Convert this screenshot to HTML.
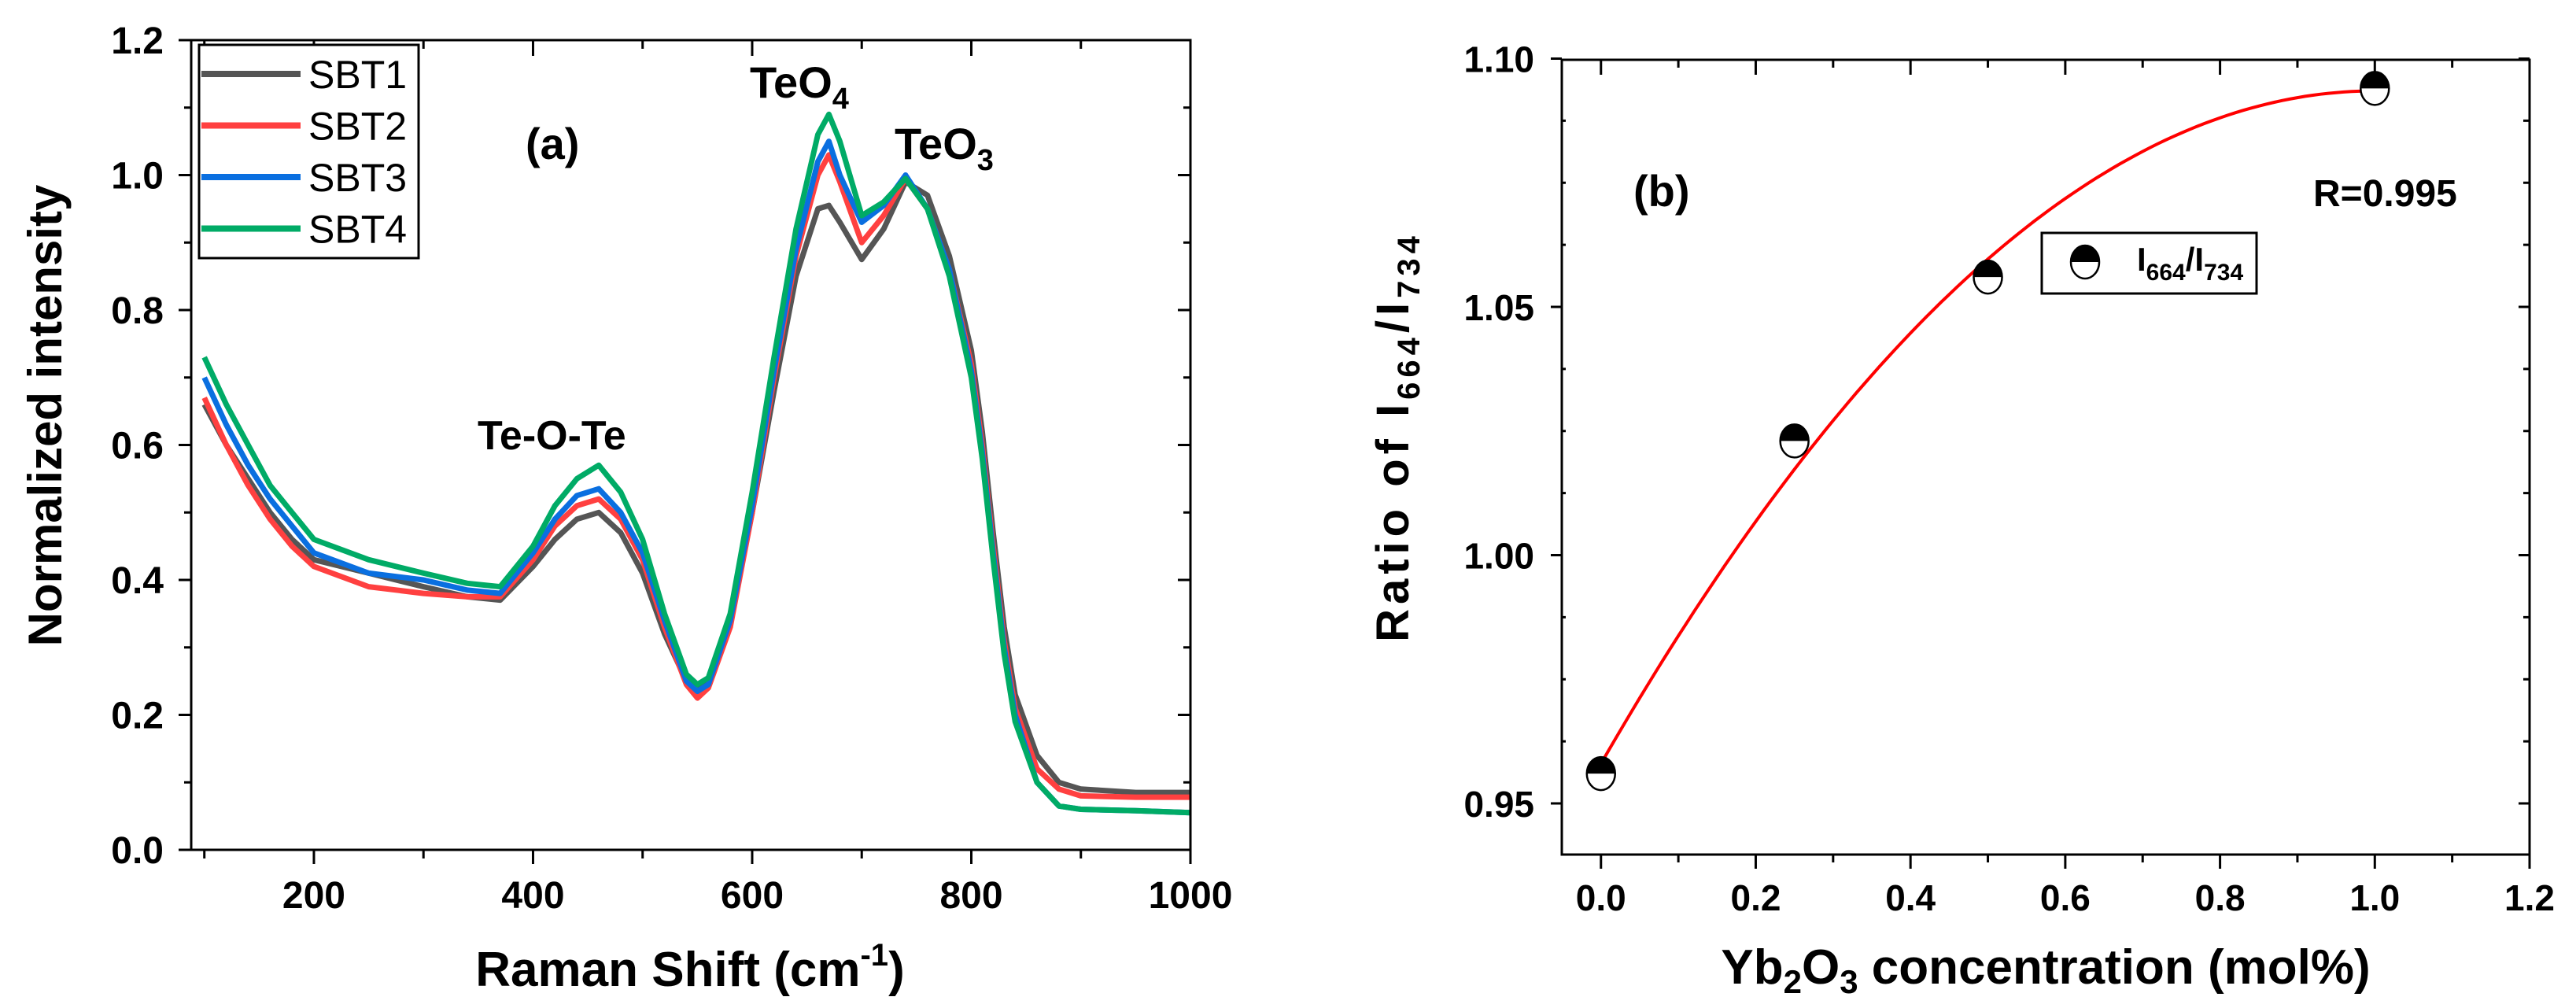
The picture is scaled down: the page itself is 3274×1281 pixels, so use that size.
<!DOCTYPE html>
<html><head><meta charset="utf-8">
<style>
html,body{margin:0;padding:0;background:#fff;}
svg{display:block;}
.nar{font-family:"Liberation Sans Narrow","Liberation Sans",sans-serif;font-weight:bold;}
.reg{font-family:"Liberation Sans",sans-serif;}
</style></head>
<body>
<svg id="fig" width="3274" height="1281" viewBox="0 0 3274 1281" xmlns="http://www.w3.org/2000/svg">
<g id="pa"></g>
<g id="pb"></g>
</svg>
<script>
// ---------- Panel (a) data ----------
const ramanShift = [100,120,140,160,180,200,250,300,340,370,400,420,440,460,480,500,520,540,550,560,580,600,620,640,660,670,680,700,720,740,760,780,800,810,820,830,840,860,880,900,950,1000];
const sbt1 = [.66,.60,.55,.50,.46,.43,.41,.39,.375,.37,.42,.46,.49,.50,.47,.41,.32,.25,.235,.25,.34,.50,.68,.85,.95,.955,.93,.875,.92,.99,.97,.88,.74,.62,.47,.33,.23,.14,.10,.09,.085,.085];
const sbt2 = [.67,.60,.54,.49,.45,.42,.39,.38,.375,.375,.43,.48,.51,.52,.49,.43,.33,.245,.225,.24,.33,.50,.70,.88,1.00,1.03,.99,.90,.94,.995,.95,.86,.72,.60,.45,.31,.21,.12,.09,.08,.078,.078];
const sbt3 = [.70,.63,.57,.52,.48,.44,.41,.40,.385,.38,.44,.49,.525,.535,.50,.44,.34,.25,.235,.245,.34,.51,.71,.89,1.02,1.05,1.00,.93,.955,1.00,.95,.86,.71,.59,.44,.30,.20,.10,.065,.06,.058,.055];
const sbt4 = [.73,.66,.60,.54,.50,.46,.43,.41,.395,.39,.45,.51,.55,.57,.53,.46,.35,.26,.245,.255,.35,.53,.73,.92,1.06,1.09,1.05,.94,.96,.995,.95,.85,.70,.58,.43,.29,.19,.10,.065,.06,.058,.055];
const seriesNames = ["SBT1","SBT2","SBT3","SBT4"];
const aXTicks = [200,400,600,800,1000];
const aXMinor = [100,300,500,700,900];
const aYTicks = [0.0,0.2,0.4,0.6,0.8,1.0,1.2];
const aYTickLabels = ["0.0","0.2","0.4","0.6","0.8","1.0","1.2"];
// ---------- Panel (b) data ----------
const conc = [0,0.25,0.5,1.0];
const ratio = [0.956,1.023,1.056,1.094];
const fitCoef = [0.958,0.271,-0.1355];
const bXTicks = [0,0.2,0.4,0.6,0.8,1.0,1.2];
const bXTickLabels = ["0.0","0.2","0.4","0.6","0.8","1.0","1.2"];
const bYTicks = [0.95,1.00,1.05,1.10];
const bYTickLabels = ["0.95","1.00","1.05","1.10"];

const NS="http://www.w3.org/2000/svg";
function mk(parent,tag,attrs,text){const e=document.createElementNS(NS,tag);for(const k in attrs)e.setAttribute(k,attrs[k]);if(text!==undefined)e.textContent=text;parent.appendChild(e);return e;}

// ===== Panel A =====
const pa=document.getElementById('pa');
const aL=243,aR=1513,aT=51,aB=1080,aX0=88,aX1=1000,aY0=0,aY1=1.2;
const ax=v=>aL+(v-aX0)/(aX1-aX0)*(aR-aL);
const ay=v=>aB-(v-aY0)/(aY1-aY0)*(aB-aT);
const colors=["#555555","#ff4040","#0a6fe0","#00ab66"];
const allS=[sbt1,sbt2,sbt3,sbt4];
allS.forEach((s,i)=>{
  const pts=ramanShift.map((x,j)=>ax(x).toFixed(1)+","+ay(s[j]).toFixed(1)).join(" ");
  const pl=mk(pa,'polyline',{points:pts,fill:'none',stroke:colors[i],'stroke-width':7,'stroke-linejoin':'round'});
  
  
});
let fr=mk(pa,'rect',{x:aL,y:aT,width:aR-aL,height:aB-aT,fill:'none',stroke:'#000','stroke-width':3});


aXTicks.forEach(v=>{
  mk(pa,'line',{x1:ax(v),x2:ax(v),y1:aB,y2:aB+18,stroke:'#000','stroke-width':3});
  mk(pa,'line',{x1:ax(v),x2:ax(v),y1:aT,y2:aT+20,stroke:'#000','stroke-width':3});
  const t=mk(pa,'text',{x:ax(v),y:1154,'text-anchor':'middle','font-size':48,class:'nar'},String(v));
  
  
});
aXMinor.forEach(v=>{
  mk(pa,'line',{x1:ax(v),x2:ax(v),y1:aB,y2:aB+11,stroke:'#000','stroke-width':3});
  mk(pa,'line',{x1:ax(v),x2:ax(v),y1:aT,y2:aT+11,stroke:'#000','stroke-width':3});
});
aYTicks.forEach((v,i)=>{
  mk(pa,'line',{x1:aL-16,x2:aL,y1:ay(v),y2:ay(v),stroke:'#000','stroke-width':3});
  mk(pa,'line',{x1:aR-16,x2:aR,y1:ay(v),y2:ay(v),stroke:'#000','stroke-width':3});
  if(i<aYTicks.length-1){const m=v+0.1;
    mk(pa,'line',{x1:aL-9,x2:aL,y1:ay(m),y2:ay(m),stroke:'#000','stroke-width':3});
    mk(pa,'line',{x1:aR-9,x2:aR,y1:ay(m),y2:ay(m),stroke:'#000','stroke-width':3});}
  const t=mk(pa,'text',{x:208,y:ay(v)+17,'text-anchor':'end','font-size':48,class:'nar'},aYTickLabels[i]);
  
  
});
// legend a
const lg=mk(pa,'g',{});


mk(lg,'rect',{x:253,y:57,width:279,height:271,fill:'#fff',stroke:'#000','stroke-width':3});
seriesNames.forEach((n,i)=>{
  const y=94+i*65.5;
  const g=mk(lg,'g',{});
  
  
  mk(g,'line',{x1:256,x2:382,y1:y,y2:y,stroke:colors[i],'stroke-width':8});
  mk(g,'text',{x:392,y:y+18,'font-size':50,class:'reg'},n);
});
let tt=mk(pa,'text',{x:668,y:202,'font-size':56,class:'nar'},'(a)');

tt=mk(pa,'text',{x:607,y:571,'font-size':52,class:'nar'},'Te-O-Te');

tt=mk(pa,'text',{x:953,y:124,'font-size':56,class:'nar'});
tt.innerHTML='TeO<tspan font-size="38" dy="14">4</tspan>';

tt=mk(pa,'text',{x:1137,y:202,'font-size':56,class:'nar'});
tt.innerHTML='TeO<tspan font-size="38" dy="14">3</tspan>';

tt=mk(pa,'text',{x:877,y:1253,'text-anchor':'middle','font-size':62,class:'nar'});
tt.innerHTML='Raman Shift (cm<tspan font-size="40" dy="-26">-1</tspan><tspan dy="26">)</tspan>';

tt=mk(pa,'text',{x:0,y:0,'text-anchor':'middle','font-size':60,'font-family':'Liberation Sans, sans-serif','font-weight':'bold',transform:'translate(78,528) rotate(-90)'},'Normalized intensity');


// ===== Panel B =====
const pb=document.getElementById('pb');
const bL=1985,bR=3215,bT=76,bB=1086,bX0=-0.0506,bX1=1.2;
const bx=v=>bL+(v-bX0)/(bX1-bX0)*(bR-bL);
const by=v=>1021-(v-0.95)*6310;
// fit curve
let cp=[];for(let k=0;k<=100;k++){const x=k/100;const y=fitCoef[0]+fitCoef[1]*x+fitCoef[2]*x*x;cp.push(bx(x).toFixed(1)+","+by(y).toFixed(1));}
const fc=mk(pb,'polyline',{points:cp.join(" "),fill:'none',stroke:'#ff0000','stroke-width':4});


function halfMarker(parent,cx,cy){
  const g=mk(parent,'g',{});
  mk(g,'ellipse',{cx:cx,cy:cy,rx:18,ry:21,fill:'#fff',stroke:'#000','stroke-width':2.5});
  mk(g,'path',{d:`M${cx-18},${cy} A18,21 0 0 1 ${cx+18},${cy} Z`,fill:'#000'});
  return g;
}
conc.forEach((c,i)=>{
  const g=halfMarker(pb,bx(c),by(ratio[i]));
  
  
});
fr=mk(pb,'rect',{x:bL,y:bT,width:bR-bL,height:bB-bT,fill:'none',stroke:'#000','stroke-width':3});


bXTicks.forEach((v,i)=>{
  mk(pb,'line',{x1:bx(v),x2:bx(v),y1:bB,y2:bB+18,stroke:'#000','stroke-width':3});
  mk(pb,'line',{x1:bx(v),x2:bx(v),y1:bT,y2:bT+19,stroke:'#000','stroke-width':3});
  if(i<bXTicks.length-1){const m=v+0.1;
    mk(pb,'line',{x1:bx(m),x2:bx(m),y1:bB,y2:bB+10,stroke:'#000','stroke-width':3});
    mk(pb,'line',{x1:bx(m),x2:bx(m),y1:bT,y2:bT+10,stroke:'#000','stroke-width':3});}
  const t=mk(pb,'text',{x:bx(v),y:1157,'text-anchor':'middle','font-size':46,class:'nar'},bXTickLabels[i]);
  
  
});
bYTicks.forEach((v,i)=>{
  mk(pb,'line',{x1:bL-14,x2:bL,y1:by(v),y2:by(v),stroke:'#000','stroke-width':3});
  mk(pb,'line',{x1:bR-14,x2:bR,y1:by(v),y2:by(v),stroke:'#000','stroke-width':3});
  const t=mk(pb,'text',{x:1950,y:by(v)+17,'text-anchor':'end','font-size':46,class:'nar'},bYTickLabels[i]);
  
  
});
[0.9625,0.975,0.9875,1.0125,1.025,1.0375,1.0625,1.075,1.0875].forEach(v=>{
  mk(pb,'line',{x1:bL,x2:bL+5,y1:by(v),y2:by(v),stroke:'#000','stroke-width':3});
  mk(pb,'line',{x1:bR-8,x2:bR,y1:by(v),y2:by(v),stroke:'#000','stroke-width':3});
});
const lb=mk(pb,'g',{});


mk(lb,'rect',{x:2595,y:296,width:273,height:77,fill:'#fff',stroke:'#000','stroke-width':3});
halfMarker(lb,2650,333);
tt=mk(lb,'text',{x:2716,y:344,'font-size':42,class:'nar'});
tt.innerHTML='I<tspan font-size="30" dy="12">664</tspan><tspan dy="-12">/I</tspan><tspan font-size="30" dy="12">734</tspan>';
tt=mk(pb,'text',{x:2076,y:262,'font-size':56,class:'nar'},'(b)');

tt=mk(pb,'text',{x:2940,y:262,'font-size':48,class:'nar'},'R=0.995');

tt=mk(pb,'text',{x:2600,y:1250,'text-anchor':'middle','font-size':62,class:'nar'});
tt.innerHTML='Yb<tspan font-size="42" dy="12">2</tspan><tspan dy="-12">O</tspan><tspan font-size="42" dy="12">3</tspan><tspan dy="-12"> concentration (mol%)</tspan>';

tt=mk(pb,'text',{x:0,y:0,'text-anchor':'middle','font-size':58,'font-family':'Liberation Sans, sans-serif','font-weight':'bold','letter-spacing':6,transform:'translate(1790,555) rotate(-90)'});
tt.innerHTML='Ratio of  I<tspan font-size="40" dy="14">664</tspan><tspan dy="-14">/I</tspan><tspan font-size="40" dy="14">734</tspan>';

</script>
</body></html>
